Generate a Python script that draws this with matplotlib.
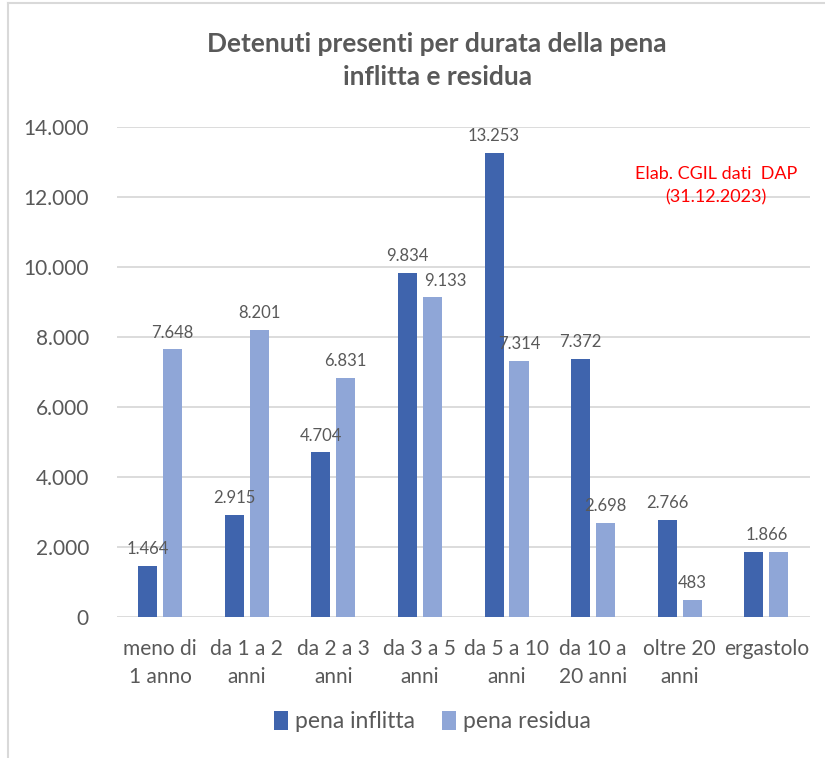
import numpy as np
import matplotlib
import matplotlib.pyplot as plt

matplotlib.rcParams.update({'font.family': ['Lato', 'DejaVu Sans'],
                            'figure.dpi': 100})

# data
categories = ['meno di\n1 anno', 'da 1 a 2\nanni', 'da 2 a 3\nanni', 'da 3 a 5\nanni',
              'da 5 a 10\nanni', 'da 10 a\n20 anni', 'oltre 20\nanni', 'ergastolo']
inflitta = [1464, 2915, 4704, 9834, 13253, 7372, 2766, 1866]
residua = [7648, 8201, 6831, 9133, 7314, 2698, 483, 1866]
yticks = np.arange(0, 14001, 2000)

dark = '#3F64AD'
light = '#8FA6D7'
grey_txt = '#595959'


def fmt(v):
    return f'{v:,}'.replace(',', '.')


fig = plt.figure(figsize=(8.25, 7.58))
ax = fig.add_axes([0.1415, 0.186, 0.84, 0.6464])

x = np.arange(len(categories))
w = 0.22
off = 0.144
ax.bar(x - off, inflitta, w, color=dark, label='pena inflitta', zorder=3)
ax.bar(x + off, residua, w, color=light, label='pena residua', zorder=3)

lab_fs = 12
for i in range(len(categories)):
    if inflitta[i] == residua[i]:
        # both bars equal: a single label over the pair
        ax.text(x[i], inflitta[i] + 250, fmt(inflitta[i]), ha='center', va='bottom',
                fontsize=lab_fs, color=grey_txt)
        continue
    ax.text(x[i] - off, inflitta[i] + 250, fmt(inflitta[i]), ha='center', va='bottom',
            fontsize=lab_fs, color=grey_txt)
    # nudge the label sideways when it would collide with the neighbour
    dx = 0.15 if abs(inflitta[i] - residua[i]) < 1000 else 0
    ax.text(x[i] + off + dx, residua[i] + 250, fmt(residua[i]), ha='center', va='bottom',
            fontsize=lab_fs, color=grey_txt)

ax.set_xlim(-0.5, len(categories) - 0.5)
ax.set_ylim(0, 14000)
ax.set_yticks(yticks)
ax.set_yticklabels([fmt(v) for v in yticks], fontsize=15, color=grey_txt)
ax.set_xticks(x)
ax.set_xticklabels(categories, fontsize=15, color=grey_txt, linespacing=1.5)
ax.tick_params(length=0)
ax.tick_params(axis='x', pad=16)
ax.tick_params(axis='y', pad=20)
ax.grid(axis='y', color='#D9D9D9', linewidth=1.3, zorder=0)
for s in ax.spines.values():
    s.set_visible(False)

fig.text(0.53, 0.92, 'Detenuti presenti per durata della pena\ninflitta e residua',
         ha='center', va='center', fontsize=19, fontweight='bold', color=grey_txt,
         linespacing=1.45)
ax.text(0.865, 0.88, 'Elab. CGIL dati  DAP\n(31.12.2023)', transform=ax.transAxes,
        ha='center', va='center', fontsize=13, color='#FF0000', linespacing=1.6)

leg = fig.legend(loc='center', bbox_to_anchor=(0.524, 0.048), ncol=2, frameon=False,
                 fontsize=16.5, handlelength=0.6, handleheight=0.9, handletextpad=0.3,
                 columnspacing=1.2)
for t in leg.get_texts():
    t.set_color(grey_txt)

# light frame around the chart area
fig.add_artist(plt.Line2D([0.01, 0.01], [0, 0.996], color='#D9D9D9', linewidth=1.5))
fig.add_artist(plt.Line2D([0.01, 1], [0.996, 0.996], color='#D9D9D9', linewidth=1.5))

fig.savefig('out.png', dpi=100)
